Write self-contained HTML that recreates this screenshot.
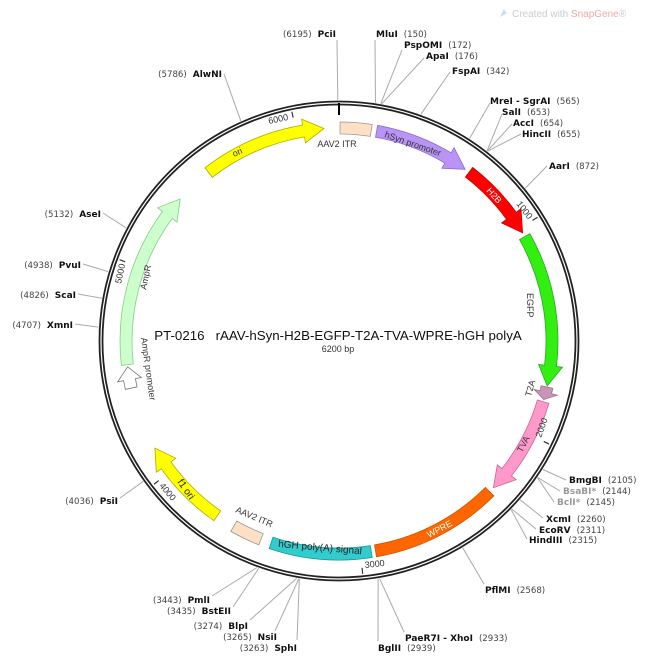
<!DOCTYPE html>
<html><head><meta charset="utf-8"><style>
html,body{margin:0;padding:0;background:#fff;}
svg{display:block;font-family:"Liberation Sans","DejaVu Sans",sans-serif;}
.n{font-family:"DejaVu Sans",sans-serif;font-weight:bold;font-size:9px;fill:#111;}
.p{font-family:"DejaVu Sans",sans-serif;font-size:8.6px;fill:#444;}
.g{font-family:"DejaVu Sans",sans-serif;fill:#999;font-weight:bold;font-size:9px;}
.fl{font-size:9px;fill:#333;}
.tk{font-size:9px;fill:#333;}
</style></head><body>
<svg id="s" width="650" height="661" viewBox="0 0 650 661" xmlns="http://www.w3.org/2000/svg">
<g id="lines" stroke="#aaa" stroke-width="1" fill="none"></g>
<circle cx="339" cy="341" r="238" fill="none" stroke="#222" stroke-width="4.8"/>
<circle cx="339" cy="341" r="238" fill="none" stroke="#fff" stroke-width="1.2"/>
<g id="feat"></g>
<g id="ticks" stroke="#333" stroke-width="1.2"></g>
<line x1="339" y1="103" x2="339" y2="115" stroke="#000" stroke-width="2"/>

<text x="338" y="340" text-anchor="middle" font-size="13.3" fill="#111">PT-0216&#160;&#160;&#160;rAAV-hSyn-H2B-EGFP-T2A-TVA-WPRE-hGH polyA</text>
<text x="338" y="352" text-anchor="middle" font-size="9" fill="#333">6200 bp</text>

<text x="512" y="17" font-size="10" fill="#c8cdd2">Created with <tspan fill="#f0a8a8">SnapGene</tspan>®</text>
<path d="M500 17 l4 -8 l2 4 l3 -1 z" fill="#bfe0f0"/>

<!-- feature labels -->
<text x="337" y="147" class="fl" text-anchor="middle" font-size="10">AAV2 ITR</text>
<text class="fl" font-size="10" fill="#222" transform="translate(234,157) rotate(-24)">ori</text>
<text class="fl" font-size="10" fill="#222" transform="translate(384,137) rotate(19)">hSyn promoter</text>
<text font-size="9" fill="#fff" transform="translate(486,191) rotate(48)">H2B</text>
<text class="fl" font-size="9" transform="translate(527,293) rotate(90)">EGFP</text>
<text class="fl" font-size="9" transform="translate(531,397) rotate(-75)">T2A</text>
<text class="fl" font-size="10" fill="#333" transform="translate(522,453) rotate(-62)">TVA</text>
<text font-size="9" fill="#fff" transform="translate(429,538) rotate(-28)">WPRE</text>
<text font-size="10" fill="#222" transform="translate(278,547) rotate(5)">hGH poly(A) signal</text>
<text class="fl" font-size="10" transform="translate(235,512) rotate(23)">AAV2 ITR</text>
<text font-size="10" fill="#222" transform="translate(177,482) rotate(55)">f1 ori</text>
<text class="fl" font-size="9.5" transform="translate(146,290) rotate(-78)">AmpR</text>
<text class="fl" font-size="9.5" transform="translate(141,338) rotate(82)">AmpR promoter</text>

<!-- tick labels -->
<text class="tk" transform="translate(269,124) rotate(-12)">6000</text>
<text class="tk" transform="translate(516,204) rotate(52)">1000</text>
<text class="tk" transform="translate(541,438) rotate(-70)">2000</text>
<text class="tk" transform="translate(365,568) rotate(-6)">3000</text>
<text class="tk" transform="translate(159,486) rotate(50)">4000</text>
<text class="tk" transform="translate(121,284) rotate(-78)">5000</text>

<!-- enzyme labels -->
<text x="336" y="37" text-anchor="end"><tspan class="p">(6195)</tspan><tspan class="n" dx="6">PciI</tspan></text>
<text x="376" y="37"><tspan class="n">MluI</tspan><tspan class="p" dx="6">(150)</tspan></text>
<text x="404" y="48"><tspan class="n">PspOMI</tspan><tspan class="p" dx="6">(172)</tspan></text>
<text x="426" y="59"><tspan class="n">ApaI</tspan><tspan class="p" dx="6">(176)</tspan></text>
<text x="452" y="74"><tspan class="n">FspAI</tspan><tspan class="p" dx="6">(342)</tspan></text>
<text x="490" y="104"><tspan class="n">MreI - SgrAI</tspan><tspan class="p" dx="6">(565)</tspan></text>
<text x="502" y="115"><tspan class="n">SalI</tspan><tspan class="p" dx="6">(653)</tspan></text>
<text x="513" y="126"><tspan class="n">AccI</tspan><tspan class="p" dx="6">(654)</tspan></text>
<text x="522" y="137"><tspan class="n">HincII</tspan><tspan class="p" dx="6">(655)</tspan></text>
<text x="549" y="169"><tspan class="n">AarI</tspan><tspan class="p" dx="6">(872)</tspan></text>
<text x="569" y="483"><tspan class="n">BmgBI</tspan><tspan class="p" dx="6">(2105)</tspan></text>
<text x="563" y="494"><tspan class="g">BsaBI*</tspan><tspan class="p" dx="6">(2144)</tspan></text>
<text x="557" y="505"><tspan class="g">BclI*</tspan><tspan class="p" dx="6">(2145)</tspan></text>
<text x="546" y="522"><tspan class="n">XcmI</tspan><tspan class="p" dx="6">(2260)</tspan></text>
<text x="539" y="533"><tspan class="n">EcoRV</tspan><tspan class="p" dx="6">(2311)</tspan></text>
<text x="529" y="543"><tspan class="n">HindIII</tspan><tspan class="p" dx="6">(2315)</tspan></text>
<text x="485" y="593"><tspan class="n">PflMI</tspan><tspan class="p" dx="6">(2568)</tspan></text>
<text x="405" y="641"><tspan class="n">PaeR7I - XhoI</tspan><tspan class="p" dx="6">(2933)</tspan></text>
<text x="378" y="651"><tspan class="n">BglII</tspan><tspan class="p" dx="6">(2939)</tspan></text>
<text x="297" y="651" text-anchor="end"><tspan class="p">(3263)</tspan><tspan class="n" dx="6">SphI</tspan></text>
<text x="277" y="640" text-anchor="end"><tspan class="p">(3265)</tspan><tspan class="n" dx="6">NsiI</tspan></text>
<text x="248" y="629" text-anchor="end"><tspan class="p">(3274)</tspan><tspan class="n" dx="6">BlpI</tspan></text>
<text x="231" y="614" text-anchor="end"><tspan class="p">(3435)</tspan><tspan class="n" dx="6">BstEII</tspan></text>
<text x="210" y="603" text-anchor="end"><tspan class="p">(3443)</tspan><tspan class="n" dx="6">PmlI</tspan></text>
<text x="118" y="504" text-anchor="end"><tspan class="p">(4036)</tspan><tspan class="n" dx="6">PsiI</tspan></text>
<text x="73" y="328" text-anchor="end"><tspan class="p">(4707)</tspan><tspan class="n" dx="6">XmnI</tspan></text>
<text x="76" y="298" text-anchor="end"><tspan class="p">(4826)</tspan><tspan class="n" dx="6">ScaI</tspan></text>
<text x="81" y="268" text-anchor="end"><tspan class="p">(4938)</tspan><tspan class="n" dx="6">PvuI</tspan></text>
<text x="101" y="217" text-anchor="end"><tspan class="p">(5132)</tspan><tspan class="n" dx="6">AseI</tspan></text>
<text x="222" y="77" text-anchor="end"><tspan class="p">(5786)</tspan><tspan class="n" dx="6">AlwNI</tspan></text>
</svg>
<script>
var cx=339,cy=341,N=6200;
function pt(bp,r){var a=bp/N*2*Math.PI;return [cx+r*Math.sin(a),cy-r*Math.cos(a)];}
function f(p){return p[0].toFixed(1)+","+p[1].toFixed(1);}
function arcPath(a,b,r1,r2){var L=Math.abs(b-a)/N*360>180?1:0;var sw=b>a?1:0;
 return "M"+f(pt(a,r2))+"A"+r2+","+r2+" 0 "+L+" "+sw+" "+f(pt(b,r2))+"L"+f(pt(b,r1))+"A"+r1+","+r1+" 0 "+L+" "+(1-sw)+" "+f(pt(a,r1))+"Z";}
function arrow(a,b,r1,r2,hd){var dir=b>a?1:-1;var m=b-dir*hd;var rm=(r1+r2)/2;
 var L=Math.abs(m-a)/N*360>180?1:0;var sw=dir>0?1:0;
 return "M"+f(pt(a,r2))+"A"+r2+","+r2+" 0 "+L+" "+sw+" "+f(pt(m,r2))+"L"+f(pt(m,r2+6))+"L"+f(pt(b,rm))+"L"+f(pt(m,r1-6))+"L"+f(pt(m,r1))+"A"+r1+","+r1+" 0 "+L+" "+(1-sw)+" "+f(pt(a,r1))+"Z";}
var ns="http://www.w3.org/2000/svg",F=document.getElementById("feat");
function add(d,fill,st){var p=document.createElementNS(ns,"path");p.setAttribute("d",d);p.setAttribute("fill",fill);p.setAttribute("stroke",st||"#888");p.setAttribute("stroke-width","0.8");F.appendChild(p);}
var r1=207,r2=219;
add(arcPath(5,150,r1,r2),"#ffe0c4","#999");
add(arrow(175,625,r1,r2,95),"#b993f5","#8a6ad0");
add(arrow(648,1025,r1,r2,95),"#ff0000","#c00");
add(arrow(1045,1760,r1,r2,95),"#33ee11","#2a2");
add(arrow(1765,1825,r1,r2,35),"#c994b8","#977");
add(arrow(1835,2300,r1,r2,95),"#ff99cc","#c68");
add(arcPath(2325,2930,r1,r2),"#ff6600","#c50");
add(arcPath(2950,3420,r1,r2),"#33cccc","#199");
add(arcPath(3470,3610,r1,r2),"#ffe0c4","#999");
add(arrow(3700,4130,r1,r2,95),"#ffff00","#aa0");
add(arrow(4430,4530,r1,r2,60),"#ffffff","#777");
add(arrow(4540,5370,r1,r2,95),"#ccffcc","#8c8");
add(arrow(5550,6130,r1,r2,95),"#ffff00","#aa0");
var T=document.getElementById("ticks");
[1000,2000,3000,4000,5000,6000].forEach(function(b){var a=pt(b,234),c=pt(b,228);var l=document.createElementNS(ns,"line");
 l.setAttribute("x1",a[0]);l.setAttribute("y1",a[1]);l.setAttribute("x2",c[0]);l.setAttribute("y2",c[1]);T.appendChild(l);});
var Lg=document.getElementById("lines");
[[6195,337,40],[150,375,40],[172,402,50],[176,424,58],[342,450,72],[565,490,103],[653,502,114],[654,512,124],[655,521,134],[872,547,166],
 [2105,566,480],[2144,560,491],[2145,554,502],[2260,543,518],[2311,536,529],[2315,527,539],[2568,484,584],[2933,404,632],[2939,378,641],
 [3263,297,640],[3265,275,631],[3274,250,620],[3435,233,607],[3443,212,596],[4036,120,498],[4707,75,324],[4826,78,294],[4938,83,264],[5132,103,213],[5786,224,74]
].forEach(function(s){var a=pt(s[0],241);var l=document.createElementNS(ns,"line");
 l.setAttribute("x1",a[0]);l.setAttribute("y1",a[1]);l.setAttribute("x2",s[1]);l.setAttribute("y2",s[2]);Lg.appendChild(l);});
</script>
</body></html>
